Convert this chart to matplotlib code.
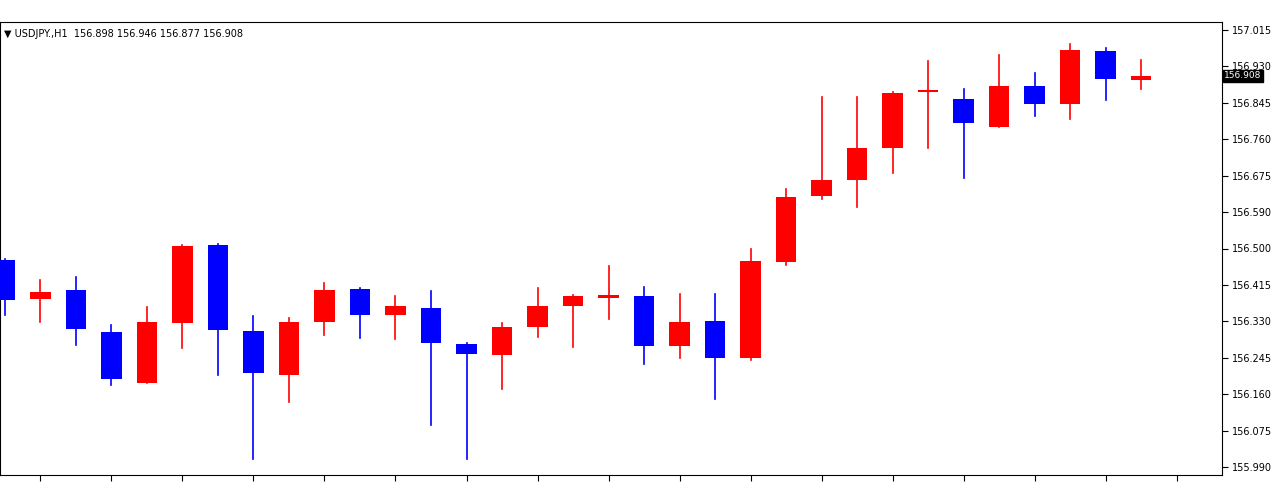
import matplotlib.pyplot as plt
from matplotlib.patches import Rectangle

# USDJPY H1 candles
opens  = [156.475, 156.384, 156.405, 156.307, 156.187, 156.328, 156.511, 156.309, 156.206, 156.330, 156.407,
          156.346, 156.363, 156.278, 156.253, 156.318, 156.367, 156.386, 156.391, 156.274, 156.332, 156.245,
          156.470, 156.625, 156.663, 156.738, 156.870, 156.853, 156.787, 156.884, 156.841, 156.966, 156.898]
highs  = [156.478, 156.428, 156.436, 156.323, 156.365, 156.511, 156.513, 156.344, 156.339, 156.421, 156.409,
          156.391, 156.403, 156.281, 156.328, 156.410, 156.393, 156.461, 156.412, 156.396, 156.396, 156.501,
          156.642, 156.858, 156.858, 156.870, 156.942, 156.877, 156.956, 156.914, 156.982, 156.973, 156.946]
lows   = [156.346, 156.330, 156.276, 156.182, 156.187, 156.269, 156.206, 156.009, 156.142, 156.299, 156.292,
          156.290, 156.088, 156.009, 156.173, 156.295, 156.271, 156.337, 156.231, 156.245, 156.149, 156.241,
          156.464, 156.619, 156.600, 156.680, 156.738, 156.668, 156.787, 156.813, 156.806, 156.851, 156.877]
closes = [156.382, 156.400, 156.314, 156.196, 156.330, 156.508, 156.311, 156.210, 156.330, 156.405, 156.346,
          156.367, 156.281, 156.255, 156.318, 156.367, 156.391, 156.393, 156.274, 156.330, 156.245, 156.473,
          156.623, 156.663, 156.738, 156.867, 156.872, 156.797, 156.884, 156.841, 156.968, 156.900, 156.908]
y_labels = ["155.990", "156.075", "156.160", "156.245", "156.330", "156.415", "156.500",
            "156.590", "156.675", "156.760", "156.845", "156.930", "157.015"]
y_ticks = [155.990 + i * 1.025 / 12 for i in range(len(y_labels))]

fig = plt.figure(figsize=(12.74, 5), dpi=100)
ax = fig.add_axes([0, 25 / 500, 1222 / 1274, 453 / 500])

w = 0.58
for i, (o, h, l, c) in enumerate(zip(opens, highs, lows, closes)):
    col = '#ff0000' if c >= o else '#0000ff'
    ax.plot([i, i], [l, h], color=col, lw=1.2, zorder=2)
    ax.add_patch(Rectangle((i - w / 2, min(o, c)), w, max(abs(c - o), 0.004), color=col, lw=0, zorder=3))

ax.set_xlim(-0.14, 34.28)
ax.set_ylim(155.971, 157.034)
ax.yaxis.tick_right()
ax.set_yticks(y_ticks)
ax.set_yticklabels(y_labels, fontsize=7, family='DejaVu Sans')
ax.set_xticks(range(1, 34, 2))
ax.set_xticklabels([])
ax.tick_params(axis='both', length=4, width=0.8, direction='out', color='black')
for s in ax.spines.values():
    s.set_color('black')
    s.set_linewidth(0.8)

ax.text(1.002, closes[-1], f"{closes[-1]:.3f}", transform=ax.get_yaxis_transform(), fontsize=6.5,
        color='white', va='center', ha='left', zorder=10,
        bbox=dict(boxstyle='square,pad=0.15', fc='black', ec='black'))
ax.text(0.003, 0.985, "\u25bc USDJPY.,H1  156.898 156.946 156.877 156.908", transform=ax.transAxes,
        fontsize=7, va='top', ha='left', color='black')

fig.savefig('out.png')
